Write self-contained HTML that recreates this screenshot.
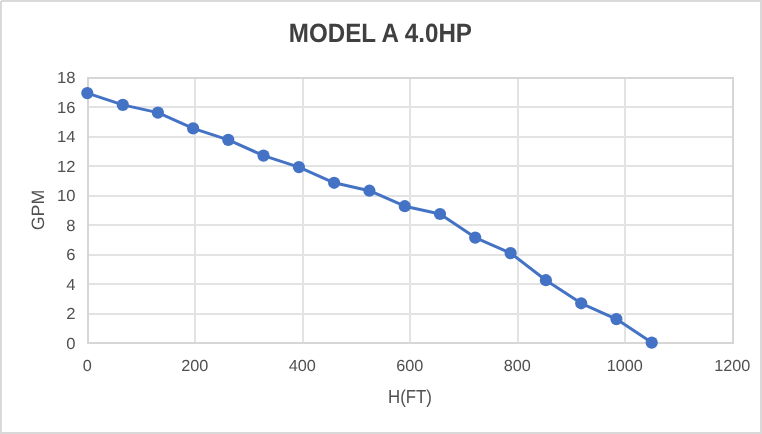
<!DOCTYPE html>
<html lang="en"><head><meta charset="utf-8"><title>MODEL A 4.0HP</title>
<style>
html,body{margin:0;padding:0;background:#fff;}
body{width:762px;height:434px;overflow:hidden;position:relative;font-family:"Liberation Sans",sans-serif;}
#chart{position:absolute;left:0;top:0;width:762px;height:434px;box-sizing:border-box;border:2px solid #d9d9d9;background:#fff;}
svg{position:absolute;left:0;top:0;}
text{font-family:"Liberation Sans",sans-serif;text-rendering:geometricPrecision;}
.ax{font-size:16.1px;fill:#505050;}
.at{fill:#505050;}
.title{font-weight:bold;fill:#404040;}
</style></head><body>
<div id="chart"></div>
<svg width="762" height="434" viewBox="0 0 762 434">
<g shape-rendering="crispEdges">
<rect x="89" y="106" width="643" height="2" fill="#e3e3e3"/>
<rect x="89" y="136" width="643" height="2" fill="#e3e3e3"/>
<rect x="89" y="165" width="643" height="2" fill="#e3e3e3"/>
<rect x="89" y="195" width="643" height="2" fill="#e3e3e3"/>
<rect x="89" y="224" width="643" height="2" fill="#e3e3e3"/>
<rect x="89" y="254" width="643" height="2" fill="#e3e3e3"/>
<rect x="89" y="283" width="643" height="2" fill="#e3e3e3"/>
<rect x="89" y="313" width="643" height="2" fill="#e3e3e3"/>
<rect x="194" y="79" width="2" height="263" fill="#e3e3e3"/>
<rect x="302" y="79" width="2" height="263" fill="#e3e3e3"/>
<rect x="409" y="79" width="2" height="263" fill="#e3e3e3"/>
<rect x="517" y="79" width="2" height="263" fill="#e3e3e3"/>
<rect x="624" y="79" width="2" height="263" fill="#e3e3e3"/>
<rect x="87" y="77" width="647" height="2" fill="#d6d6d6"/>
<rect x="87" y="342" width="647" height="2" fill="#d6d6d6"/>
<rect x="87" y="77" width="2" height="267" fill="#d6d6d6"/>
<rect x="732" y="77" width="2" height="267" fill="#d6d6d6"/>
<rect x="0" y="0" width="1" height="1" fill="#ffffff"/>
</g>
<polyline fill="none" stroke="#4472c4" stroke-width="3" stroke-linejoin="round" stroke-linecap="round" points="87.3,93.1 122.8,104.9 157.9,112.6 193.1,128.4 228.3,139.9 263.5,155.6 298.9,167.1 334.1,182.8 369.4,190.7 404.8,206.2 440.0,214.0 475.2,237.6 510.6,253.1 545.9,280.2 581.2,303.3 616.4,319.1 651.7,342.6"/>
<g fill="#4472c4">
<circle cx="87.3" cy="93.1" r="6.1"/>
<circle cx="122.8" cy="104.9" r="6.1"/>
<circle cx="157.9" cy="112.6" r="6.1"/>
<circle cx="193.1" cy="128.4" r="6.1"/>
<circle cx="228.3" cy="139.9" r="6.1"/>
<circle cx="263.5" cy="155.6" r="6.1"/>
<circle cx="298.9" cy="167.1" r="6.1"/>
<circle cx="334.1" cy="182.8" r="6.1"/>
<circle cx="369.4" cy="190.7" r="6.1"/>
<circle cx="404.8" cy="206.2" r="6.1"/>
<circle cx="440.0" cy="214.0" r="6.1"/>
<circle cx="475.2" cy="237.6" r="6.1"/>
<circle cx="510.6" cy="253.1" r="6.1"/>
<circle cx="545.9" cy="280.2" r="6.1"/>
<circle cx="581.2" cy="303.3" r="6.1"/>
<circle cx="616.4" cy="319.1" r="6.1"/>
<circle cx="651.7" cy="342.6" r="6.1"/>
</g>
<text class="ax" text-anchor="end" transform="translate(75.40,83.10) scale(1.03,1)">18</text>
<text class="ax" text-anchor="end" transform="translate(75.40,113.10) scale(1.03,1)">16</text>
<text class="ax" text-anchor="end" transform="translate(75.40,142.10) scale(1.03,1)">14</text>
<text class="ax" text-anchor="end" transform="translate(75.40,172.10) scale(1.03,1)">12</text>
<text class="ax" text-anchor="end" transform="translate(75.40,201.10) scale(1.03,1)">10</text>
<text class="ax" text-anchor="end" transform="translate(75.40,231.10) scale(1.03,1)">8</text>
<text class="ax" text-anchor="end" transform="translate(75.40,260.10) scale(1.03,1)">6</text>
<text class="ax" text-anchor="end" transform="translate(75.40,290.10) scale(1.03,1)">4</text>
<text class="ax" text-anchor="end" transform="translate(75.40,319.10) scale(1.03,1)">2</text>
<text class="ax" text-anchor="end" transform="translate(75.40,349.10) scale(1.03,1)">0</text>
<text class="ax" text-anchor="middle" transform="translate(87.30,371.10) scale(1.01,1)">0</text>
<text class="ax" text-anchor="middle" transform="translate(194.80,371.10) scale(1.01,1)">200</text>
<text class="ax" text-anchor="middle" transform="translate(302.30,371.10) scale(1.01,1)">400</text>
<text class="ax" text-anchor="middle" transform="translate(409.80,371.10) scale(1.01,1)">600</text>
<text class="ax" text-anchor="middle" transform="translate(517.30,371.10) scale(1.01,1)">800</text>
<text class="ax" text-anchor="middle" transform="translate(624.80,371.10) scale(1.01,1)">1000</text>
<text class="ax" text-anchor="middle" transform="translate(732.30,371.10) scale(1.01,1)">1200</text>
<text class="at" text-anchor="middle" font-size="18.8" transform="translate(410.00,402.60) scale(0.895,1)">H(FT)</text>
<text class="at" text-anchor="middle" font-size="17.9" transform="translate(43.80,210.00) rotate(-90) scale(0.995,1)">GPM</text>
<text class="title" text-anchor="middle" font-size="26.4" transform="translate(380.40,42.00) scale(0.916,1)">MODEL A 4.0HP</text>
</svg></body></html>
